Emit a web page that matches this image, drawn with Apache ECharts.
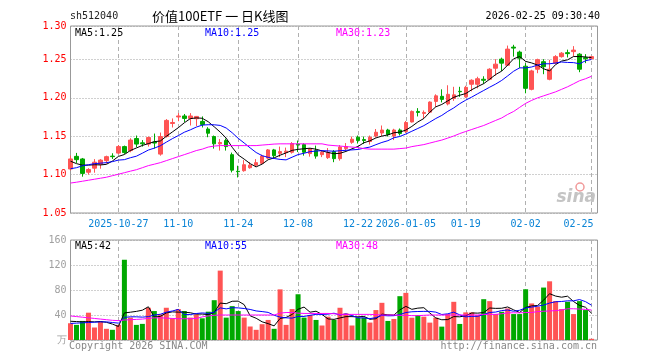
<!DOCTYPE html>
<html><head><meta charset="utf-8">
<script src="https://cdn.jsdelivr.net/npm/echarts@6/dist/echarts.min.js"></script>
<style>html,body{margin:0;padding:0;background:#fff}#c{width:660px;height:360px}</style>
</head><body><div id="c"></div><script>
const dates = [
'2025-10-15','2025-10-16','2025-10-17',
'2025-10-20','2025-10-21','2025-10-22','2025-10-23','2025-10-24',
'2025-10-27','2025-10-28','2025-10-29','2025-10-30','2025-10-31',
'2025-11-03','2025-11-04','2025-11-05','2025-11-06','2025-11-07',
'2025-11-10','2025-11-11','2025-11-12','2025-11-13','2025-11-14',
'2025-11-17','2025-11-18','2025-11-19','2025-11-20','2025-11-21',
'2025-11-24','2025-11-25','2025-11-26','2025-11-27','2025-11-28',
'2025-12-01','2025-12-02','2025-12-03','2025-12-04','2025-12-05',
'2025-12-08','2025-12-09','2025-12-10','2025-12-11','2025-12-12',
'2025-12-15','2025-12-16','2025-12-17','2025-12-18','2025-12-19',
'2025-12-22','2025-12-23','2025-12-24','2025-12-25','2025-12-26',
'2025-12-29','2025-12-30','2025-12-31',
'2026-01-05','2026-01-06','2026-01-07','2026-01-08','2026-01-09',
'2026-01-12','2026-01-13','2026-01-14','2026-01-15','2026-01-16',
'2026-01-19','2026-01-20','2026-01-21','2026-01-22','2026-01-23',
'2026-01-26','2026-01-27','2026-01-28','2026-01-29','2026-01-30',
'2026-02-02','2026-02-03','2026-02-04','2026-02-05','2026-02-06',
'2026-02-09','2026-02-10','2026-02-11','2026-02-12','2026-02-13',
'2026-02-24','2026-02-25'];

const opens = [
1.1073,1.1238,1.1204,1.1031,1.1084,1.1136,1.1182,1.1241,1.1280,1.1365,
1.1313,1.1470,1.1414,1.1398,1.1424,1.1267,1.1496,1.1666,1.1751,1.1764,
1.1732,1.1728,1.1693,1.1594,1.1496,1.1401,1.1444,1.1260,1.1044,1.1051,
1.1090,1.1123,1.1147,1.1215,1.1322,1.1277,1.1287,1.1291,1.1398,1.1391,
1.1274,1.1313,1.1260,1.1221,1.1300,1.1208,1.1339,1.1421,1.1487,1.1457,
1.1431,1.1503,1.1542,1.1581,1.1503,1.1581,1.1562,1.1686,1.1823,1.1797,
1.1814,1.1954,1.2020,1.1921,1.1993,1.2085,1.2013,1.2177,1.2177,1.2242,
1.2242,1.2386,1.2504,1.2425,1.2661,1.2596,1.2412,1.2111,1.2373,1.2471,
1.2242,1.2452,1.2537,1.2589,1.2602,1.2569,1.2524,1.2510];
const closes = [
1.1204,1.1195,1.1016,1.1067,1.1162,1.1189,1.1234,1.1234,1.1365,1.1287,
1.1450,1.1398,1.1401,1.1483,1.1411,1.1496,1.1706,1.1679,1.1764,1.1732,
1.1764,1.1758,1.1653,1.1539,1.1401,1.1418,1.1365,1.1058,1.1038,1.1129,
1.1123,1.1156,1.1241,1.1322,1.1247,1.1300,1.1306,1.1405,1.1385,1.1291,
1.1333,1.1241,1.1293,1.1287,1.1208,1.1359,1.1365,1.1461,1.1444,1.1444,
1.1487,1.1552,1.1581,1.1522,1.1581,1.1535,1.1679,1.1823,1.1810,1.1810,
1.1945,1.2026,1.1980,1.2046,1.2039,1.2079,1.2137,1.2229,1.2249,1.2229,
1.2373,1.2439,1.2452,1.2635,1.2648,1.2517,1.2124,1.2351,1.2497,1.2406,
1.2373,1.2537,1.2582,1.2576,1.2622,1.2373,1.2510,1.2537];
const highs = [
1.1247,1.1283,1.1217,1.1084,1.1202,1.1202,1.1247,1.1278,1.1385,1.1378,
1.1474,1.1509,1.1450,1.1496,1.1535,1.1548,1.1723,1.1732,1.1801,1.1790,
1.1801,1.1764,1.1758,1.1618,1.1509,1.1463,1.1470,1.1287,1.1116,1.1189,
1.1162,1.1202,1.1260,1.1333,1.1335,1.1365,1.1352,1.1424,1.1444,1.1408,
1.1346,1.1378,1.1320,1.1346,1.1320,1.1385,1.1411,1.1496,1.1509,1.1496,
1.1509,1.1594,1.1640,1.1597,1.1597,1.1601,1.1699,1.1836,1.1866,1.1836,
1.1954,1.2046,1.2111,1.2164,1.2144,1.2144,1.2157,1.2242,1.2275,1.2281,
1.2386,1.2504,1.2524,1.2681,1.2691,1.2615,1.2452,1.2366,1.2510,1.2504,
1.2495,1.2556,1.2596,1.2628,1.2674,1.2582,1.2569,1.2543];
const lows = [
1.1055,1.1152,1.0973,1.1000,1.1025,1.1077,1.1143,1.1204,1.1267,1.1270,
1.1291,1.1356,1.1365,1.1365,1.1339,1.1247,1.1483,1.1614,1.1696,1.1686,
1.1640,1.1633,1.1614,1.1487,1.1339,1.1313,1.1313,1.1029,1.0963,1.1038,
1.1077,1.1097,1.1136,1.1202,1.1215,1.1228,1.1228,1.1274,1.1294,1.1247,
1.1234,1.1208,1.1228,1.1204,1.1162,1.1182,1.1313,1.1401,1.1405,1.1401,
1.1391,1.1483,1.1503,1.1496,1.1450,1.1509,1.1542,1.1679,1.1758,1.1728,
1.1804,1.1882,1.1941,1.1902,1.1961,1.2013,1.2000,1.2085,1.2124,1.2183,
1.2229,1.2288,1.2347,1.2419,1.2537,1.2386,1.2059,1.2098,1.2321,1.2308,
1.2229,1.2438,1.2524,1.2526,1.2539,1.2334,1.2452,1.2504];

const ma5 = [
1.1175,1.1143,1.1123,1.1123,1.1129,1.1126,1.1134,1.1177,1.1237,1.1262,
1.1314,1.1347,1.1380,1.1404,1.1429,1.1438,1.1499,1.1555,1.1611,1.1675,
1.1729,1.1739,1.1734,1.1689,1.1623,1.1554,1.1475,1.1356,1.1256,1.1202,
1.1143,1.1101,1.1137,1.1194,1.1218,1.1253,1.1283,1.1316,1.1329,1.1337,
1.1344,1.1331,1.1309,1.1289,1.1272,1.1278,1.1302,1.1336,1.1367,1.1415,
1.1440,1.1478,1.1502,1.1517,1.1545,1.1554,1.1580,1.1628,1.1686,1.1731,
1.1813,1.1883,1.1914,1.1961,1.2007,1.2034,1.2056,1.2106,1.2147,1.2185,
1.2243,1.2304,1.2348,1.2426,1.2509,1.2538,1.2475,1.2455,1.2427,1.2379,
1.2350,1.2433,1.2479,1.2495,1.2538,1.2538,1.2533,1.2524];
const ma10 = [
1.1077,1.1090,1.1116,1.1129,1.1143,1.1149,1.1156,1.1169,1.1189,1.1195,
1.1220,1.1240,1.1279,1.1320,1.1345,1.1376,1.1423,1.1468,1.1508,1.1552,
1.1583,1.1619,1.1645,1.1650,1.1649,1.1641,1.1607,1.1545,1.1473,1.1412,
1.1348,1.1288,1.1247,1.1225,1.1210,1.1198,1.1192,1.1227,1.1261,1.1278,
1.1299,1.1307,1.1312,1.1309,1.1305,1.1311,1.1317,1.1322,1.1328,1.1344,
1.1359,1.1390,1.1419,1.1442,1.1480,1.1497,1.1529,1.1565,1.1601,1.1638,
1.1684,1.1731,1.1771,1.1824,1.1869,1.1924,1.1970,1.2010,1.2054,1.2096,
1.2139,1.2180,1.2227,1.2286,1.2347,1.2391,1.2390,1.2402,1.2427,1.2444,
1.2444,1.2454,1.2467,1.2461,1.2459,1.2444,1.2483,1.2501];
const ma30 = [
1.0890,1.0901,1.0914,1.0927,1.0940,1.0953,1.0966,1.0986,1.1005,1.1025,
1.1045,1.1064,1.1090,1.1117,1.1136,1.1156,1.1182,1.1208,1.1234,1.1260,
1.1286,1.1313,1.1332,1.1359,1.1372,1.1378,1.1378,1.1378,1.1378,1.1378,
1.1378,1.1378,1.1385,1.1391,1.1398,1.1401,1.1401,1.1401,1.1401,1.1401,
1.1401,1.1401,1.1401,1.1385,1.1378,1.1372,1.1365,1.1359,1.1352,1.1339,
1.1332,1.1332,1.1332,1.1332,1.1332,1.1339,1.1346,1.1365,1.1378,1.1391,
1.1411,1.1431,1.1450,1.1476,1.1503,1.1535,1.1562,1.1588,1.1614,1.1640,
1.1673,1.1706,1.1738,1.1784,1.1823,1.1876,1.1928,1.1967,1.2000,1.2026,
1.2052,1.2078,1.2111,1.2144,1.2183,1.2223,1.2249,1.2281];

const volumes = [
26.8,24.2,30.5,43.7,20.0,29.5,17.9,16.3,24.2,128.4,
35.8,24.2,25.8,51.6,46.3,41.0,51.6,34.7,49.5,46.3,
35.8,41.0,34.7,45.3,63.7,111.0,35.8,54.2,46.3,35.8,
21.6,16.3,25.3,32.1,17.9,81.0,24.2,49.5,73.2,35.8,
40.0,32.1,23.2,37.4,32.1,51.6,42.6,23.2,35.8,35.8,
27.9,47.9,59.5,30.5,33.7,70.1,75.4,35.7,39.9,37.3,
27.8,35.7,21.4,41.5,61.1,25.7,44.2,44.2,39.9,65.3,
62.2,41.5,45.2,50.5,41.5,41.5,81.2,58.5,53.2,83.9,
93.9,62.2,49.5,61.1,41.5,62.2,47.9,1.9];
const vma5 = [
30.0,29.5,29.0,29.5,29.0,29.6,28.3,25.5,21.6,43.3,
44.5,45.8,47.7,53.2,36.7,37.8,43.3,45.0,44.6,44.6,
43.6,41.5,41.5,40.6,44.1,59.1,58.1,62.0,62.2,56.6,
38.7,34.8,29.1,26.2,22.6,34.5,36.1,40.9,49.2,52.7,
44.5,46.1,40.9,33.7,33.0,35.3,37.4,37.4,37.1,37.8,
33.1,34.1,41.4,40.3,39.9,48.3,53.8,49.1,51.0,51.7,
43.2,35.3,32.4,32.7,37.5,37.1,38.8,43.3,43.0,43.9,
51.2,50.6,50.8,52.9,48.2,44.0,52.0,54.6,55.2,63.7,
74.1,70.3,68.5,70.1,61.6,55.3,52.4,42.9];
const vma10 = [
26.5,27.0,27.5,28.0,28.5,29.0,29.0,28.0,27.0,36.2,
37.1,37.1,36.6,37.4,40.0,41.2,44.5,46.4,48.9,40.7,
40.7,42.4,43.3,42.6,44.4,51.4,49.8,51.7,51.4,50.4,
48.9,46.5,45.5,44.2,39.6,36.6,35.5,35.0,37.7,37.7,
39.5,41.1,40.9,41.4,42.9,39.9,41.8,39.1,35.4,35.4,
34.2,35.8,39.4,38.7,38.9,40.7,44.0,45.2,45.6,45.8,
45.8,44.6,40.8,41.9,44.6,40.2,37.0,37.9,37.9,40.7,
44.1,44.7,47.1,48.0,46.0,47.6,51.3,52.7,54.1,55.9,
59.1,61.2,61.6,62.7,62.7,64.7,61.4,55.7];
const vma30 = [
38.5,37.5,36.5,35.5,34.5,33.5,32.5,31.5,31.0,32.0,
32.5,33.0,33.5,34.5,35.5,35.5,35.0,34.5,34.0,34.0,
34.0,34.5,37.0,38.5,39.5,40.0,40.0,40.0,40.0,40.0,
40.0,40.0,40.0,40.0,40.0,43.0,44.0,44.0,43.0,42.5,
42.5,42.5,42.5,42.5,42.0,41.0,41.0,41.0,41.0,41.0,
41.0,40.5,40.0,40.0,40.0,39.5,39.5,39.0,39.0,39.5,
40.0,40.0,40.0,40.0,40.0,40.0,40.0,40.0,40.0,41.0,
41.0,41.0,42.0,43.5,43.5,43.5,44.0,44.0,45.5,46.0,
46.5,47.0,48.0,50.0,50.0,49.5,49.0,48.0];

// tick labels
const labelDates = ['2025-10-27','2025-11-10','2025-11-24','2025-12-08','2025-12-22','2026-01-05','2026-01-19','2026-02-02','2026-02-25'];
const labelTexts = ['2025-10-27','11-10','11-24','12-08','12-22','2026-01-05','01-19','02-02','02-25'];
const priceTicks = [1.05, 1.10, 1.15, 1.20, 1.25];
const priceTopLabel = '1.30';
const volTicks = ['', '40', '80', '120', '160'];
const volUnit = '万';
const priceLegend = ['MA5:1.25', 'MA10:1.25', 'MA30:1.23'];
const volLegend = ['MA5:42', 'MA10:55', 'MA30:48'];

const RED = '#ff5454', GREEN = '#00a800';
const MONO = '"DejaVu Sans Mono", monospace';
const cats = dates.concat(['']);
const isMark = (i, v) => labelDates.indexOf(v) >= 0;
const GL = 70.5, GR = 62.5;

const chart = echarts.init(document.getElementById('c'), null, {renderer: 'canvas'});
const dashed = {show: true, interval: isMark, lineStyle: {color: '#b0b0b0', type: [4, 3], width: 1}};
const option = {
  animation: false,
  grid: [
    {left: GL, right: GR, top: 26, height: 187, show: true, borderColor: '#999', borderWidth: 1},
    {left: GL, right: GR, top: 240, height: 100, show: true, borderColor: '#999', borderWidth: 1}
  ],
  xAxis: [
    {type: 'category', gridIndex: 0, data: cats, boundaryGap: false,
     axisLine: {show: false}, axisTick: {show: false},
     axisLabel: {interval: isMark, color: '#0a84d6', fontFamily: MONO, fontSize: 10, margin: 6,
       formatter: v => { const k = labelDates.indexOf(v); if (k < 0) return ''; return k === labelDates.length - 1 ? '{s|' + labelTexts[k] + '}' : labelTexts[k]; },
       rich: {s: {padding: [0, 26, 0, 0], color: '#0a84d6', fontFamily: MONO, fontSize: 10}}},
     splitLine: dashed},
    {type: 'category', gridIndex: 1, data: cats, boundaryGap: false,
     axisLine: {show: false}, axisTick: {show: false}, axisLabel: {show: false},
     splitLine: dashed}
  ],
  yAxis: [
    {type: 'value', gridIndex: 0, min: priceTicks[0], max: 1.2936, interval: 0.05,
     axisLine: {show: false}, axisTick: {show: false},
     axisLabel: {color: '#ff0000', fontFamily: MONO, fontSize: 10, margin: 4,
       formatter: v => v > priceTicks[priceTicks.length - 1] + 0.01 ? priceTopLabel : v.toFixed(2)},
     splitLine: {lineStyle: {color: '#a0a0a0', type: [1, 2], width: 1}}},
    {type: 'value', gridIndex: 1, min: 0, max: 160, interval: 40,
     axisLine: {show: false}, axisTick: {show: false},
     axisLabel: {color: '#a0a0a0', fontFamily: MONO, fontSize: 10, margin: 4,
       formatter: v => v === 0 ? volUnit : volTicks[Math.round(v / 40)]},
     splitLine: {lineStyle: {color: '#a0a0a0', type: [1, 2], width: 1}}}
  ],
  series: [
    {type: 'candlestick', xAxisIndex: 0, yAxisIndex: 0, barWidth: 4, clip: true,
     data: opens.map((o, i) => [o, closes[i], lows[i], highs[i]]),
     itemStyle: {color: RED, color0: GREEN, borderColor: RED, borderColor0: GREEN, borderWidth: 1}},
    {type: 'line', xAxisIndex: 0, yAxisIndex: 0, data: ma5, symbol: 'none', lineStyle: {color: '#000', width: 1}, z: 4},
    {type: 'line', xAxisIndex: 0, yAxisIndex: 0, data: ma10, symbol: 'none', lineStyle: {color: '#0000ff', width: 1}, z: 4},
    {type: 'line', xAxisIndex: 0, yAxisIndex: 0, data: ma30, symbol: 'none', lineStyle: {color: '#ff00ff', width: 1}, z: 4},
    {type: 'bar', xAxisIndex: 1, yAxisIndex: 1, barWidth: 5,
     data: volumes.map((v, i) => ({value: v, itemStyle: {color: closes[i] >= opens[i] ? RED : GREEN}}))},
    {type: 'line', xAxisIndex: 1, yAxisIndex: 1, data: vma5, symbol: 'none', lineStyle: {color: '#000', width: 1}, z: 4},
    {type: 'line', xAxisIndex: 1, yAxisIndex: 1, data: vma10, symbol: 'none', lineStyle: {color: '#0000ff', width: 1}, z: 4},
    {type: 'line', xAxisIndex: 1, yAxisIndex: 1, data: vma30, symbol: 'none', lineStyle: {color: '#ff00ff', width: 1}, z: 4}
  ],
  graphic: {elements: [
    {type: 'text', style: {x: 70, y: 16, text: 'sh512040', fill: '#222', font: '10px ' + MONO, verticalAlign: 'middle'}},
    {type: 'text', style: {x: 152, y: 16, text: '价值100ETF 一 日K线图', fill: '#000', font: '13px "Noto Sans CJK SC", sans-serif', verticalAlign: 'middle'}},
    {type: 'text', style: {x: 600, y: 16, text: '2026-02-25 09:30:40', fill: '#000', font: '10px ' + MONO, align: 'right', verticalAlign: 'middle'}},
    {type: 'text', z: 10, style: {x: 75, y: 33, text: priceLegend[0], fill: '#000', font: '10px ' + MONO, verticalAlign: 'middle'}},
    {type: 'text', z: 10, style: {x: 205, y: 33, text: priceLegend[1], fill: '#0000ff', font: '10px ' + MONO, verticalAlign: 'middle'}},
    {type: 'text', z: 10, style: {x: 336, y: 33, text: priceLegend[2], fill: '#ff00ff', font: '10px ' + MONO, verticalAlign: 'middle'}},
    {type: 'text', z: 10, style: {x: 75, y: 246, text: volLegend[0], fill: '#000', font: '10px ' + MONO, verticalAlign: 'middle'}},
    {type: 'text', z: 10, style: {x: 205, y: 246, text: volLegend[1], fill: '#0000ff', font: '10px ' + MONO, verticalAlign: 'middle'}},
    {type: 'text', z: 10, style: {x: 336, y: 246, text: volLegend[2], fill: '#ff00ff', font: '10px ' + MONO, verticalAlign: 'middle'}},
    {type: 'text', style: {x: 69, y: 346, text: 'Copyright 2026 SINA.COM', fill: '#888', font: '10px ' + MONO, verticalAlign: 'middle'}},
    {type: 'text', style: {x: 597, y: 346, text: 'http://finance.sina.com.cn', fill: '#888', font: '10px ' + MONO, align: 'right', verticalAlign: 'middle'}},
    {type: 'text', z: 1, style: {x: 596, y: 198, text: 'sina', fill: '#c4c4c4', font: 'italic bold 17px "DejaVu Sans", sans-serif', align: 'right', verticalAlign: 'middle'}},
    {type: 'circle', z: 1, shape: {cx: 580, cy: 187, r: 4}, style: {fill: 'none', stroke: '#f19a9a', lineWidth: 1.5}}
  ]}
};
chart.setOption(option);
</script></body></html>
